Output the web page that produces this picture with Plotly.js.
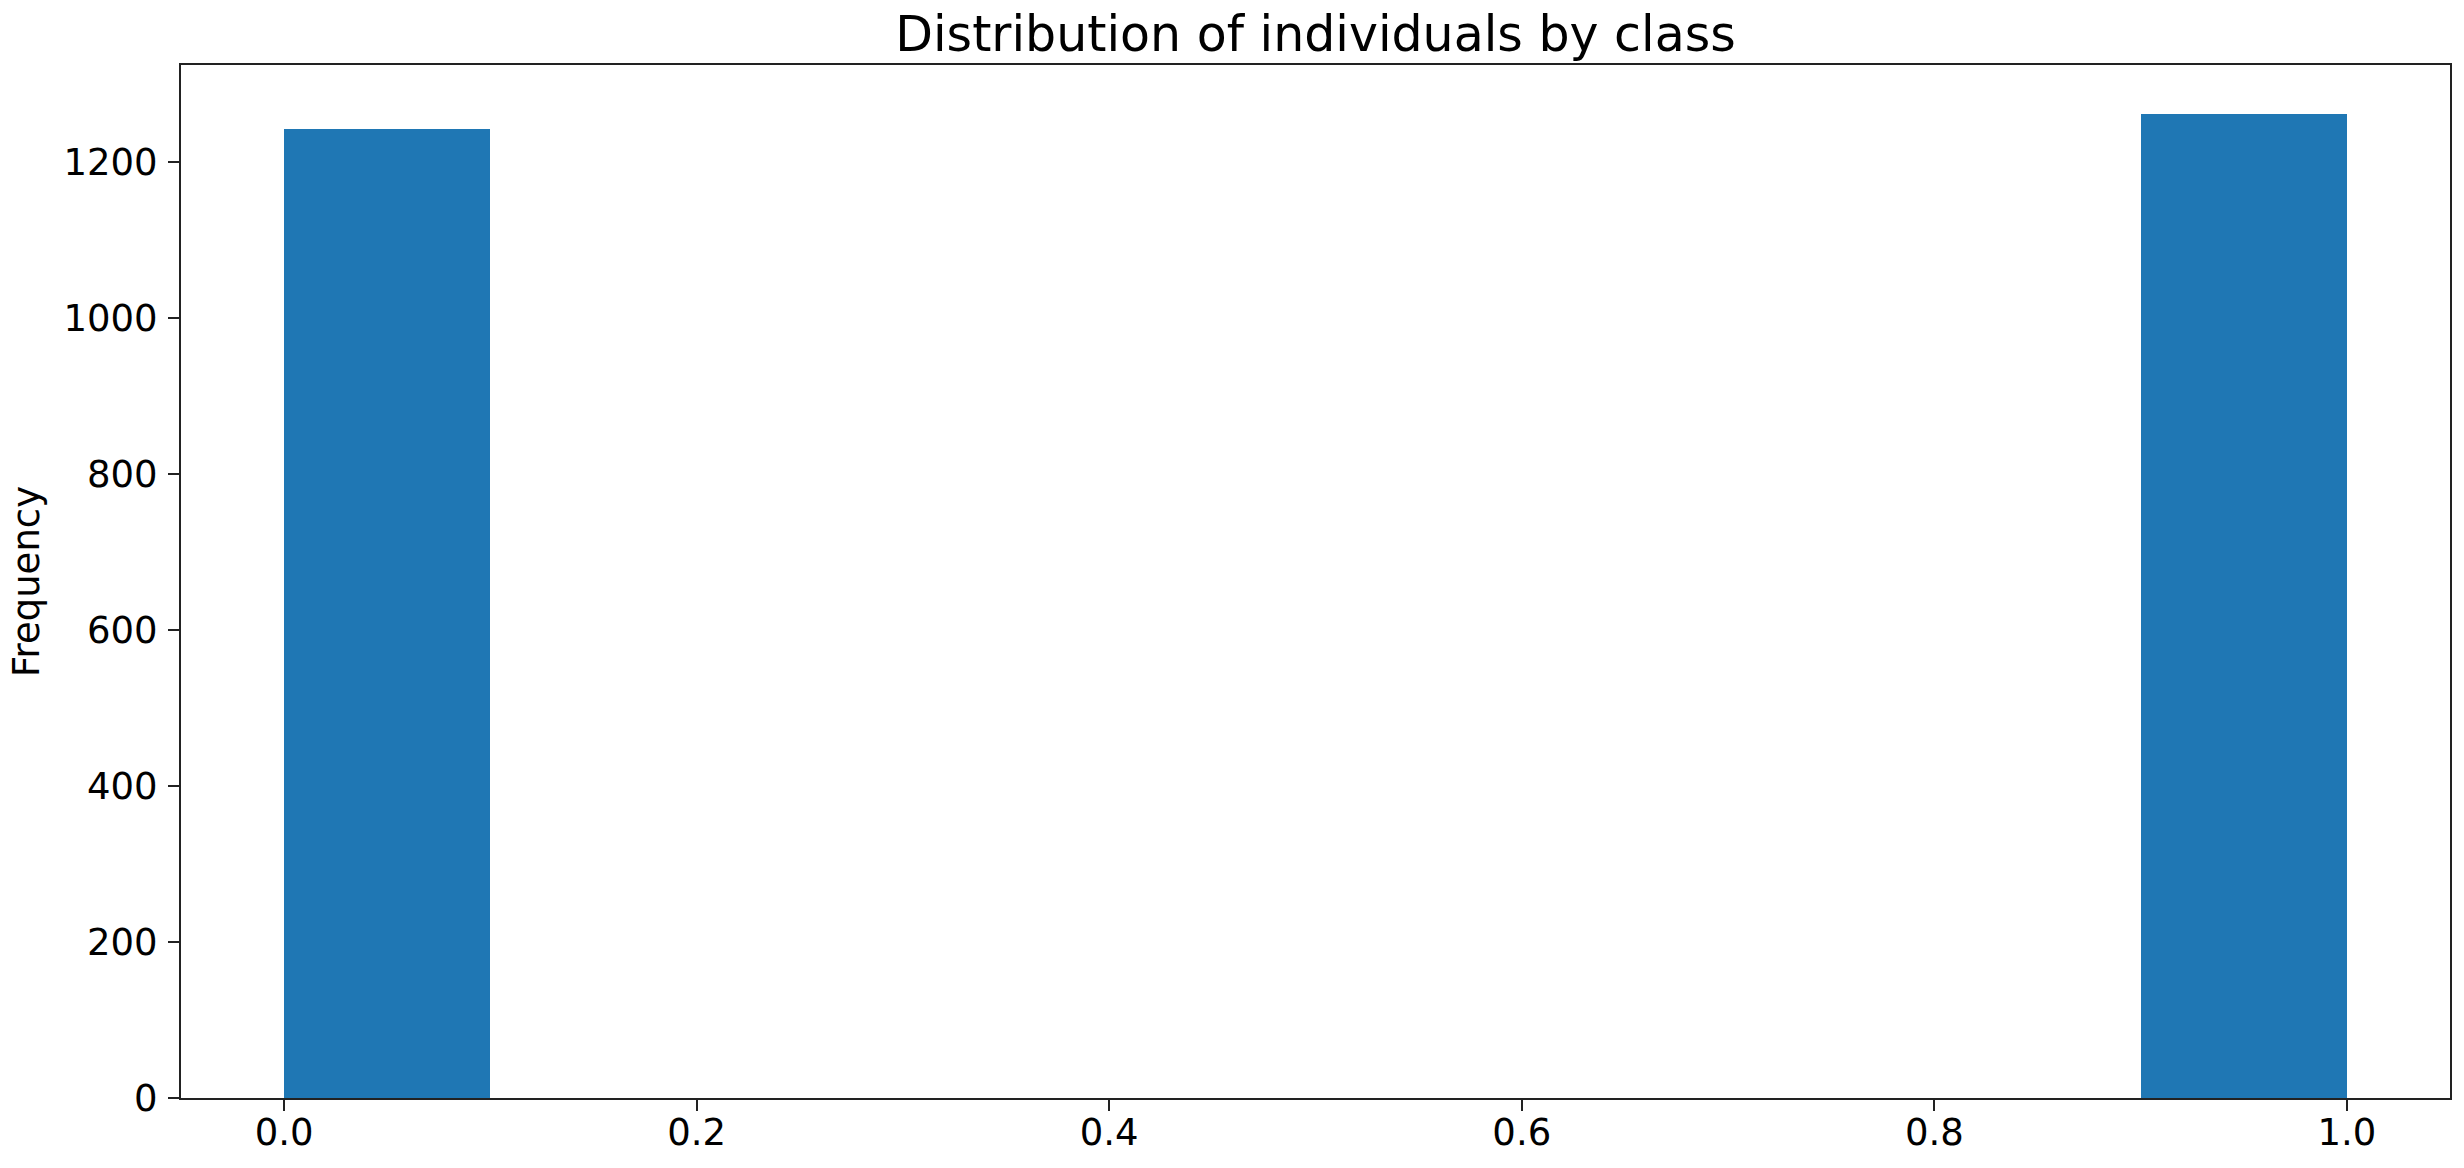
<!DOCTYPE html>
<html>
<head>
<meta charset="utf-8">
<script src="https://cdn.plot.ly/plotly-3.0.1.min.js"></script>
<style>
  html, body { margin: 0; padding: 0; background: #ffffff; }
  #hist-chart { width: 2464px; height: 1168px; }
</style>
</head>
<body>
<div id="hist-chart"></div>
<script>
// histogram of class labels, 10 bins between 0 and 1
var binEdges = [0.0, 0.1, 0.2, 0.3, 0.4, 0.5, 0.6, 0.7, 0.8, 0.9, 1.0];
var binCounts = [1242, 0, 0, 0, 0, 0, 0, 0, 0, 1261];
var xTicks = [0.0, 0.2, 0.4, 0.6, 0.8, 1.0];
var yTicks = [0, 200, 400, 600, 800, 1000, 1200];

function createHistogram() {
    var centers = [];
    var widths = [];
    for (var i = 0; i < binCounts.length; i++) {
        centers.push((binEdges[i] + binEdges[i + 1]) / 2);
        widths.push(binEdges[i + 1] - binEdges[i]);
    }

    var bars = {
        x: centers,
        y: binCounts,
        width: widths,
        type: 'bar',
        marker: {
            color: '#1f77b4',
            line: { width: 0 }
        },
        hoverinfo: 'x+y'
    };

    var maxCount = Math.max.apply(null, binCounts);

    var axisStyle = {
        showline: true,
        mirror: true,
        linecolor: '#222222',
        linewidth: 2,
        showgrid: false,
        zeroline: false,
        ticks: 'outside',
        ticklen: 11,
        tickwidth: 2,
        tickcolor: '#222222',
        tickfont: { family: 'DejaVu Sans', size: 37, color: '#000000' }
    };

    var layout = {
        width: 2464,
        height: 1168,
        paper_bgcolor: '#ffffff',
        plot_bgcolor: '#ffffff',
        showlegend: false,
        bargap: 0,
        margin: { l: 181, r: 14, t: 65, b: 70, pad: 0 },
        font: { family: 'DejaVu Sans', color: '#000000' },
        title: {
            text: 'Distribution of individuals by class',
            font: { family: 'DejaVu Sans', size: 49, color: '#000000' },
            xref: 'paper',
            x: 0.5,
            xanchor: 'center',
            y: 1 - 34 / 1168,
            yanchor: 'middle'
        },
        xaxis: Object.assign({}, axisStyle, {
            range: [-0.05, 1.05],
            tickvals: xTicks,
            tickformat: '.1f',
            ticklabelstandoff: -10
        }),
        yaxis: Object.assign({}, axisStyle, {
            range: [0, maxCount * 1.05],
            tickvals: yTicks,
            ticklabelstandoff: 3,
            title: {
                text: 'Frequency',
                font: { family: 'DejaVu Sans', size: 37, color: '#000000' },
                standoff: 12
            }
        })
    };

    Plotly.newPlot('hist-chart', [bars], layout, { displayModeBar: false, staticPlot: true });
}

createHistogram();
</script>
</body>
</html>
